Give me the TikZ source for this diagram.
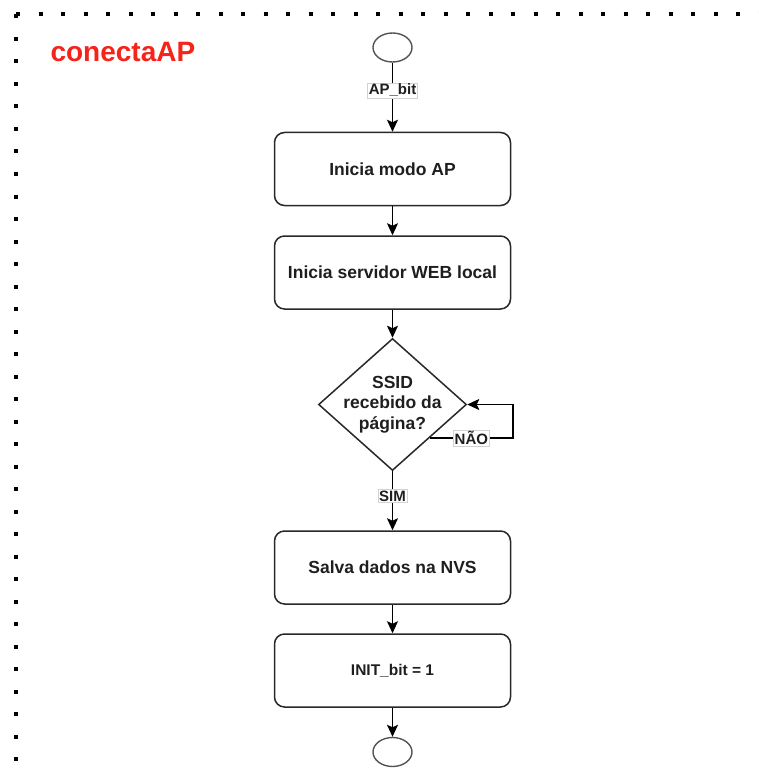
\documentclass[tikz,border=0pt]{standalone}
\usepackage{fontspec}
\setmainfont{Liberation Sans}
\usetikzlibrary{shapes.geometric,arrows.meta}
\definecolor{titlered}{RGB}{245,35,25}
\definecolor{lineC}{RGB}{40,40,40}
\definecolor{txtC}{RGB}{30,30,30}
\tikzset{
  procbox/.style={draw=lineC,line width=1.5pt,rounded corners=10pt,minimum width=236pt,minimum height=73pt,inner sep=0pt,font=\fontsize{17.5}{20}\selectfont\bfseries,text=txtC},
  termc/.style={draw=lineC!80,line width=1.4pt,ellipse,minimum width=39pt,minimum height=29pt,inner sep=0pt},
  decis/.style={draw=lineC,line width=1.5pt,diamond,minimum width=148pt,minimum height=132pt,inner sep=0pt},
  dtext/.style={align=center,font=\fontsize{17.5}{20.5}\selectfont\bfseries,text=txtC,inner sep=0pt},
  flow/.style={draw=black,line width=1.6pt,-{Stealth[length=12pt,width=11pt,inset=2.5pt]}},
  lbl/.style={fill=white,draw=gray!35,line width=0.4pt,inner sep=1.2pt,font=\fontsize{15}{17}\selectfont\bfseries,text=txtC},
  brd/.style={line width=4pt,dash pattern=on 4pt off 18.5pt,black}
}
\begin{document}
\begin{tikzpicture}[x=1pt,y=-1pt]
\useasboundingbox (0,0) rectangle (758,778);
\coordinate (bc) at (16,14.5);
\coordinate (br) at (760,14.5);
\coordinate (bb) at (16,780);
\draw[brd] (bc) -- (br);
\draw[brd] (bc) -- (bb);
\node[text=titlered,font=\fontsize{28}{30}\selectfont\bfseries,anchor=west] (title) at (47,52) {conectaAP};
\node[termc] (start) at (392.5,47.5) {};
\node[procbox] (b1) at (392.5,169) {Inicia modo AP};
\node[procbox] (b2) at (392.5,272.5) {Inicia servidor WEB local};
\node[decis] (dia) at (392.5,404.5) {};
\node[dtext] (diat) at (392.5,404.5) {SSID\\recebido da\\página?};
\node[procbox] (b3) at (392.5,567.5) {Salva dados na NVS};
\node[procbox,font=\fontsize{15.5}{18}\selectfont\bfseries] (b4) at (392.5,670.5) {INIT\_bit = 1};
\node[termc] (stop) at (392.5,752) {};
\draw[flow] (start) -- node[lbl,pos=0.4] {AP\_bit} (b1);
\draw[flow] (b1) -- (b2);
\draw[flow] (b2) -- (dia);
\draw[flow] (dia) -- node[lbl,pos=0.42] {SIM} (b3);
\draw[flow] (b3) -- (b4);
\draw[flow] (b4) -- (stop);
\draw[flow] (dia.south east) -- node[lbl,pos=0.5] {NÃO} ++(83,0) |- (dia.east);
\end{tikzpicture}
\end{document}
